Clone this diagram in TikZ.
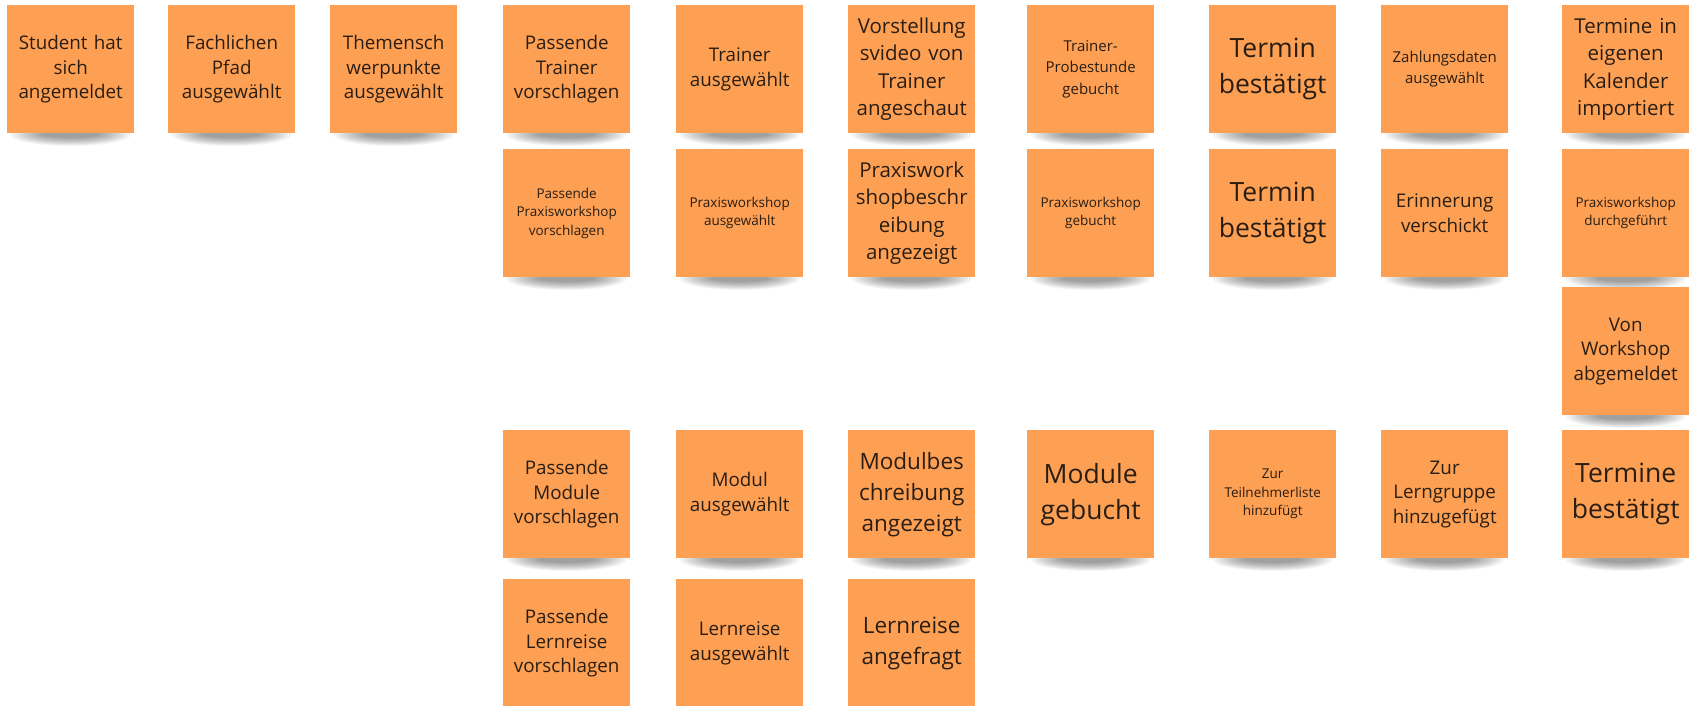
\documentclass[tikz,border=0pt]{standalone}
\usepackage{fontspec}
\setmainfont{Open Sans}
\usetikzlibrary{backgrounds}
\definecolor{notefill}{RGB}{253,160,84}
\definecolor{notetext}{RGB}{42,30,20}
\tikzset{
  sticky/.style={anchor=north west, fill=notefill, minimum width=127pt, minimum height=128pt,
    inner sep=0pt, text width=122pt, align=center, text=notetext},
  fsA/.style={font=\fontsize{13.5}{18.5}\selectfont},
  fsB/.style={font=\fontsize{15}{21.5}\selectfont},
  fsC/.style={font=\fontsize{18.8}{24.5}\selectfont},
  fsD/.style={font=\fontsize{20.5}{27.5}\selectfont},
  fsE/.style={font=\fontsize{22.5}{31}\selectfont},
  fsF/.style={font=\fontsize{26.5}{36}\selectfont},
  shadowlayer/.style={black,opacity=0.045},
}
\begin{document}
\begin{tikzpicture}[x=1pt,y=-1pt]
\useasboundingbox (0,0) rectangle (1698,706);
% row 1
\node[sticky,fsC] (r1c1) at (7,5) {Student hat\\sich\\angemeldet};
\node[sticky,fsC] (r1c2) at (168,5) {Fachlichen\\Pfad\\ausgewählt};
\node[sticky,fsC] (r1c3) at (330,5) {Themensch\\werpunkte\\ausgewählt};
\node[sticky,fsC] (r1c4) at (503,5) {Passende\\Trainer\\vorschlagen};
\node[sticky,fsC] (r1c5) at (676,5) {Trainer\\ausgewählt};
\node[sticky,fsD] (r1c6) at (848,5) {Vorstellung\\svideo von\\Trainer\\angeschaut};
\node[sticky,fsB] (r1c7) at (1027,5) {Trainer-\\Probestunde\\gebucht};
\node[sticky,fsF] (r1c8) at (1209,5) {Termin\\bestätigt};
\node[sticky,fsB] (r1c9) at (1381,5) {Zahlungsdaten\\ausgewählt};
\node[sticky,fsD] (r1c10) at (1562,5) {Termine in\\eigenen\\Kalender\\importiert};
% row 2
\node[sticky,fsA] (r2c4) at (503,149) {Passende\\Praxisworkshop\\vorschlagen};
\node[sticky,fsA] (r2c5) at (676,149) {Praxisworkshop\\ausgewählt};
\node[sticky,fsD] (r2c6) at (848,149) {Praxiswork\\shopbeschr\\eibung\\angezeigt};
\node[sticky,fsA] (r2c7) at (1027,149) {Praxisworkshop\\gebucht};
\node[sticky,fsF] (r2c8) at (1209,149) {Termin\\bestätigt};
\node[sticky,fsC] (r2c9) at (1381,149) {Erinnerung\\verschickt};
\node[sticky,fsA] (r2c10) at (1562,149) {Praxisworkshop\\durchgeführt};
% row 3
\node[sticky,fsC] (r3c10) at (1562,287) {Von\\Workshop\\abgemeldet};
% row 4
\node[sticky,fsC] (r4c4) at (503,430) {Passende\\Module\\vorschlagen};
\node[sticky,fsC] (r4c5) at (676,430) {Modul\\ausgewählt};
\node[sticky,fsE] (r4c6) at (848,430) {Modulbes\\chreibung\\angezeigt};
\node[sticky,fsF] (r4c7) at (1027,430) {Module\\gebucht};
\node[sticky,fsA] (r4c8) at (1209,430) {Zur\\Teilnehmerliste\\hinzufügt};
\node[sticky,fsC] (r4c9) at (1381,430) {Zur\\Lerngruppe\\hinzugefügt};
\node[sticky,fsF] (r4c10) at (1562,430) {Termine\\bestätigt};
% row 5
\node[sticky,fsC] (r5c4) at (503,579) {Passende\\Lernreise\\vorschlagen};
\node[sticky,fsC] (r5c5) at (676,579) {Lernreise\\ausgewählt};
\node[sticky,fsE] (r5c6) at (848,579) {Lernreise\\angefragt};
% shadows
\begin{pgfonlayer}{background}
\fill[white] (0,0) rectangle (1698,706);
\foreach \n in {r1c1,r1c2,r1c3,r1c4,r1c5,r1c6,r1c7,r1c8,r1c9,r1c10,
                r2c4,r2c5,r2c6,r2c7,r2c8,r2c9,r2c10,r3c10,
                r4c4,r4c5,r4c6,r4c7,r4c8,r4c9,r4c10,r5c4,r5c5,r5c6}{
  \foreach \k in {0,...,9}{
    \fill[shadowlayer] ([yshift=-1pt]\n.south) ellipse [x radius={60-\k*3.5}, y radius={11.5-\k*0.9}];
  }
}
\end{pgfonlayer}
\end{tikzpicture}
\end{document}
